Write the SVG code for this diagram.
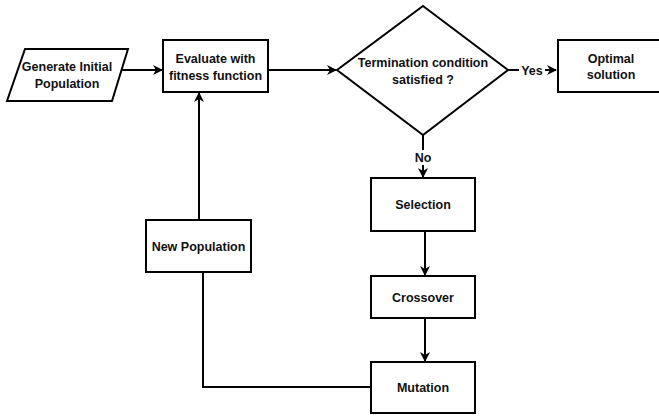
<svg xmlns="http://www.w3.org/2000/svg" width="659" height="418" viewBox="0 0 659 418">
<defs>
<style>
.n{fill:#fff;stroke:#000;stroke-width:2}
.t{font-family:"Liberation Sans",Arial,sans-serif;font-weight:bold;font-size:12.5px;fill:#111;text-anchor:middle}
.c{fill:none;stroke:#000;stroke-width:2}
</style>
<marker id="ah" viewBox="0 0 10 10" refX="9" refY="5" markerWidth="5" markerHeight="5" orient="auto" markerUnits="strokeWidth">
<path d="M0,0 L10,5 L0,10 L3,5 Z" fill="#000"/>
</marker>
</defs>
<rect width="659" height="418" fill="#fff"/>
<g id="connectors">
<path class="c" d="M119,70 L162,70" marker-end="url(#ah)"/>
<path class="c" d="M268,70 L336,70" marker-end="url(#ah)"/>
<path class="c" d="M508,70 L519,70 M545,70 L556,70" marker-end="url(#ah)"/>
<text class="t" x="532" y="75">Yes</text>
<path class="c" d="M423,135 L423,150 M423,165 L423,177" marker-end="url(#ah)"/>
<text class="t" x="423" y="162">No</text>
<path class="c" d="M425,231 L425,275" marker-end="url(#ah)"/>
<path class="c" d="M425,318 L425,361" marker-end="url(#ah)"/>
<path class="c" d="M371,387 L203,387 L203,272"/>
<path class="c" d="M199,220 L199,93" marker-end="url(#ah)"/>
</g>
<g id="generate">
<polygon class="n" points="25,49 128,49 112,101 7,101"/>
<text class="t" x="67" y="71">Generate Initial</text>
<text class="t" x="67" y="88">Population</text>
</g>
<g id="evaluate">
<rect class="n" x="163" y="40" width="105" height="52"/>
<text class="t" x="215.5" y="63">Evaluate with</text>
<text class="t" x="215.5" y="80">fitness function</text>
</g>
<g id="termination">
<polygon class="n" points="423,6 508,70 423,135 337,70"/>
<text class="t" x="423" y="67">Termination condition</text>
<text class="t" x="423" y="84">satisfied ?</text>
</g>
<g id="optimal">
<rect class="n" x="558" y="40" width="110" height="52"/>
<text class="t" x="611" y="63">Optimal</text>
<text class="t" x="611" y="79">solution</text>
</g>
<g id="selection">
<rect class="n" x="371" y="178" width="104" height="53"/>
<text class="t" x="423" y="209">Selection</text>
</g>
<g id="crossover">
<rect class="n" x="371" y="276" width="104" height="42"/>
<text class="t" x="423" y="302">Crossover</text>
</g>
<g id="mutation">
<rect class="n" x="371" y="362" width="104" height="51"/>
<text class="t" x="423" y="392">Mutation</text>
</g>
<g id="newpop">
<rect class="n" x="146" y="220" width="105" height="52"/>
<text class="t" x="198.5" y="251">New Population</text>
</g>
</svg>
